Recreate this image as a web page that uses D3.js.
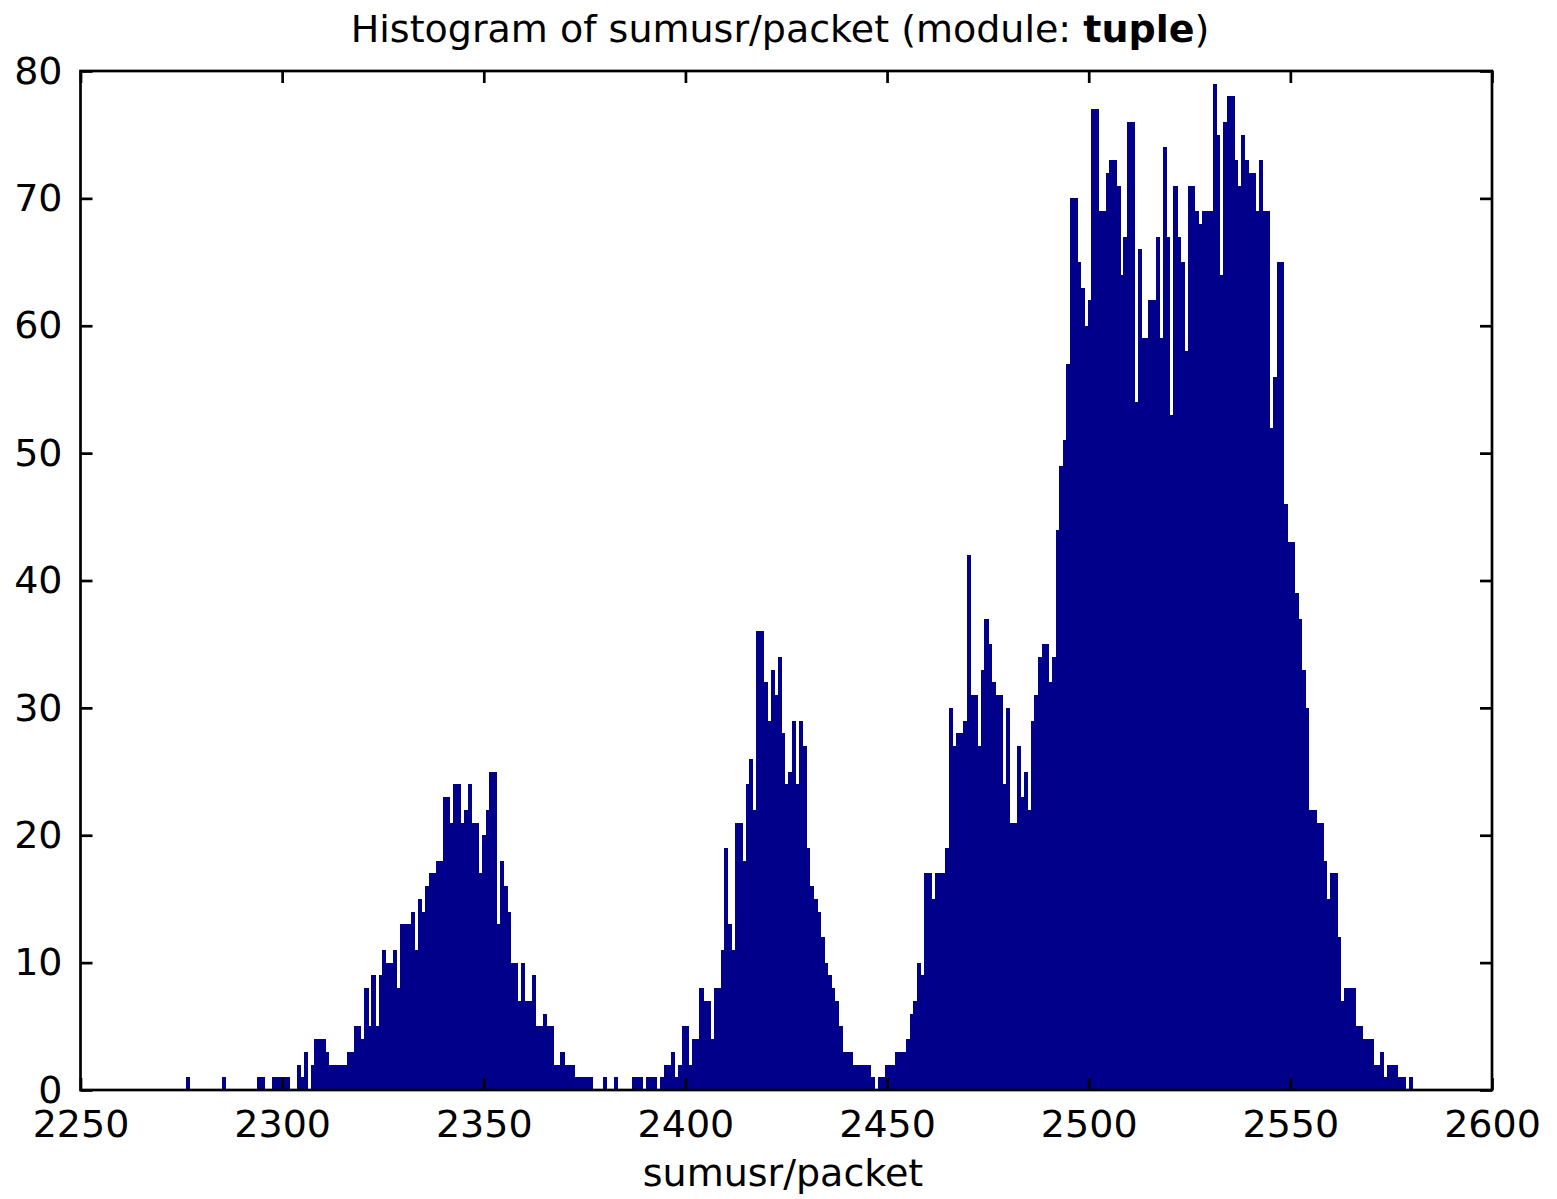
<!DOCTYPE html>
<html><head><meta charset="utf-8">
<script src="https://cdn.jsdelivr.net/npm/d3@7"></script>
<style>
body{margin:0;background:#fff;}
svg{display:block;}
text{font-family:"DejaVu Sans",sans-serif;fill:#000;}
</style>
</head><body>
<svg id="c" width="1557" height="1199"></svg>
<script>
// Histogram counts, one per bin
const binCounts = [
  1,0,0,0,0,0,0,0,0,0,
  1,0,0,0,0,0,0,0,0,0,
  1,1,0,0,1,1,1,1,1,0,
  0,2,1,3,0,2,4,4,4,3,
  2,2,2,2,2,3,3,5,5,4,
  8,5,9,5,9,11,10,10,11,8,
  13,13,13,14,11,15,14,16,17,17,
  18,18,23,23,21,24,24,21,22,24,
  21,21,17,20,22,25,25,13,18,16,
  14,10,10,7,10,7,7,9,5,5,
  6,5,5,2,2,3,2,2,2,1,
  1,1,1,1,0,0,0,1,0,0,
  1,0,0,0,0,1,1,1,0,1,
  1,1,0,1,2,2,3,1,2,5,
  5,2,4,4,8,7,7,4,8,8,
  11,19,13,11,21,21,18,24,26,22,
  36,36,32,29,33,31,34,28,24,25,
  29,24,29,27,19,16,15,14,12,10,
  9,8,7,5,3,3,3,2,2,2,
  2,2,1,0,1,1,2,2,2,3,
  3,3,4,6,7,10,9,17,17,15,
  17,17,17,19,30,27,28,28,29,42,
  31,31,27,33,37,35,32,31,31,24,
  30,21,21,27,23,25,22,29,31,34,
  35,35,32,34,44,49,51,57,70,70,
  65,63,60,62,77,77,69,69,72,73,
  73,71,64,67,76,76,54,66,59,59,
  62,62,67,59,74,67,53,71,67,65,
  58,71,71,69,68,69,69,69,79,75,
  64,76,78,78,73,71,75,73,72,72,
  69,73,69,69,52,56,65,65,46,43,
  43,39,37,33,30,22,22,21,21,18,
  15,17,17,12,7,8,8,8,5,5,
  4,4,4,2,2,3,1,2,2,2,
  1,1,0,1
];
// Data range covered by the bins (min and max of sumusr/packet)
const binRange = [2276.2, 2580.2];
const xDomain = [2250, 2600];
const yDomain = [0, 80];
const xTicks = [2250, 2300, 2350, 2400, 2450, 2500, 2550, 2600];
const yTicks = [0, 10, 20, 30, 40, 50, 60, 70, 80];
const titlePlain = "Histogram of sumusr/packet (module: ";
const titleBold = "tuple";
const titleEnd = ")";
const xLabel = "sumusr/packet";

const svg = d3.select("#c");
const plot = {left: 80.5, right: 1492, top: 71, bottom: 1090};
const x = d3.scaleLinear().domain(xDomain).range([plot.left, plot.right]);
const y = d3.scaleLinear().domain(yDomain).range([plot.bottom, plot.top]);

const n = binCounts.length;
const bw = (binRange[1] - binRange[0]) / n;
const bins = binCounts.map((c, i) => ({x0: binRange[0] + i * bw, x1: binRange[0] + (i + 1) * bw, c}));

svg.append("g").selectAll("rect")
  .data(bins.filter(b => b.c > 0))
  .join("rect")
  .attr("x", d => x(d.x0))
  .attr("width", d => x(d.x1) - x(d.x0) + 0.6)
  .attr("y", d => y(d.c))
  .attr("height", d => y(0) - y(d.c))
  .attr("fill", "#00008b")
  .attr("shape-rendering", "crispEdges");

const fs = 38;
const tick = 12;
function styleAxis(g) {
  g.select(".domain").remove();
  g.selectAll("line").attr("stroke", "#000").attr("stroke-width", 2.7);
  g.selectAll("text").attr("font-family", "DejaVu Sans, sans-serif").attr("font-size", fs).attr("fill", "#000");
  g.attr("font-family", null).attr("font-size", null);
}

svg.append("g").attr("transform", `translate(0,${plot.bottom})`)
  .call(d3.axisBottom(x).tickValues(xTicks).tickSizeInner(-tick).tickSizeOuter(0).tickPadding(20).tickFormat(d3.format("d")))
  .call(styleAxis);
svg.append("g").attr("transform", `translate(0,${plot.top})`)
  .call(d3.axisTop(x).tickValues(xTicks).tickSizeInner(-tick).tickSizeOuter(0).tickFormat(""))
  .call(styleAxis);
svg.append("g").attr("transform", `translate(${plot.left},0)`)
  .call(d3.axisLeft(y).tickValues(yTicks).tickSizeInner(-tick).tickSizeOuter(0).tickPadding(18).tickFormat(d3.format("d")))
  .call(styleAxis);
svg.append("g").attr("transform", `translate(${plot.right},0)`)
  .call(d3.axisRight(y).tickValues(yTicks).tickSizeInner(-tick).tickSizeOuter(0).tickFormat(""))
  .call(styleAxis);

svg.append("rect")
  .attr("x", plot.left).attr("y", plot.top)
  .attr("width", plot.right - plot.left).attr("height", plot.bottom - plot.top)
  .attr("fill", "none").attr("stroke", "#000").attr("stroke-width", 2.7);

const t = svg.append("text")
  .attr("x", 780).attr("y", 42)
  .attr("text-anchor", "middle")
  .attr("font-size", fs);
t.append("tspan").text(titlePlain);
t.append("tspan").attr("font-weight", "bold").text(titleBold);
t.append("tspan").text(titleEnd);

svg.append("text")
  .attr("x", 783).attr("y", 1186)
  .attr("text-anchor", "middle")
  .attr("font-size", fs)
  .text(xLabel);
</script>
</body></html>
